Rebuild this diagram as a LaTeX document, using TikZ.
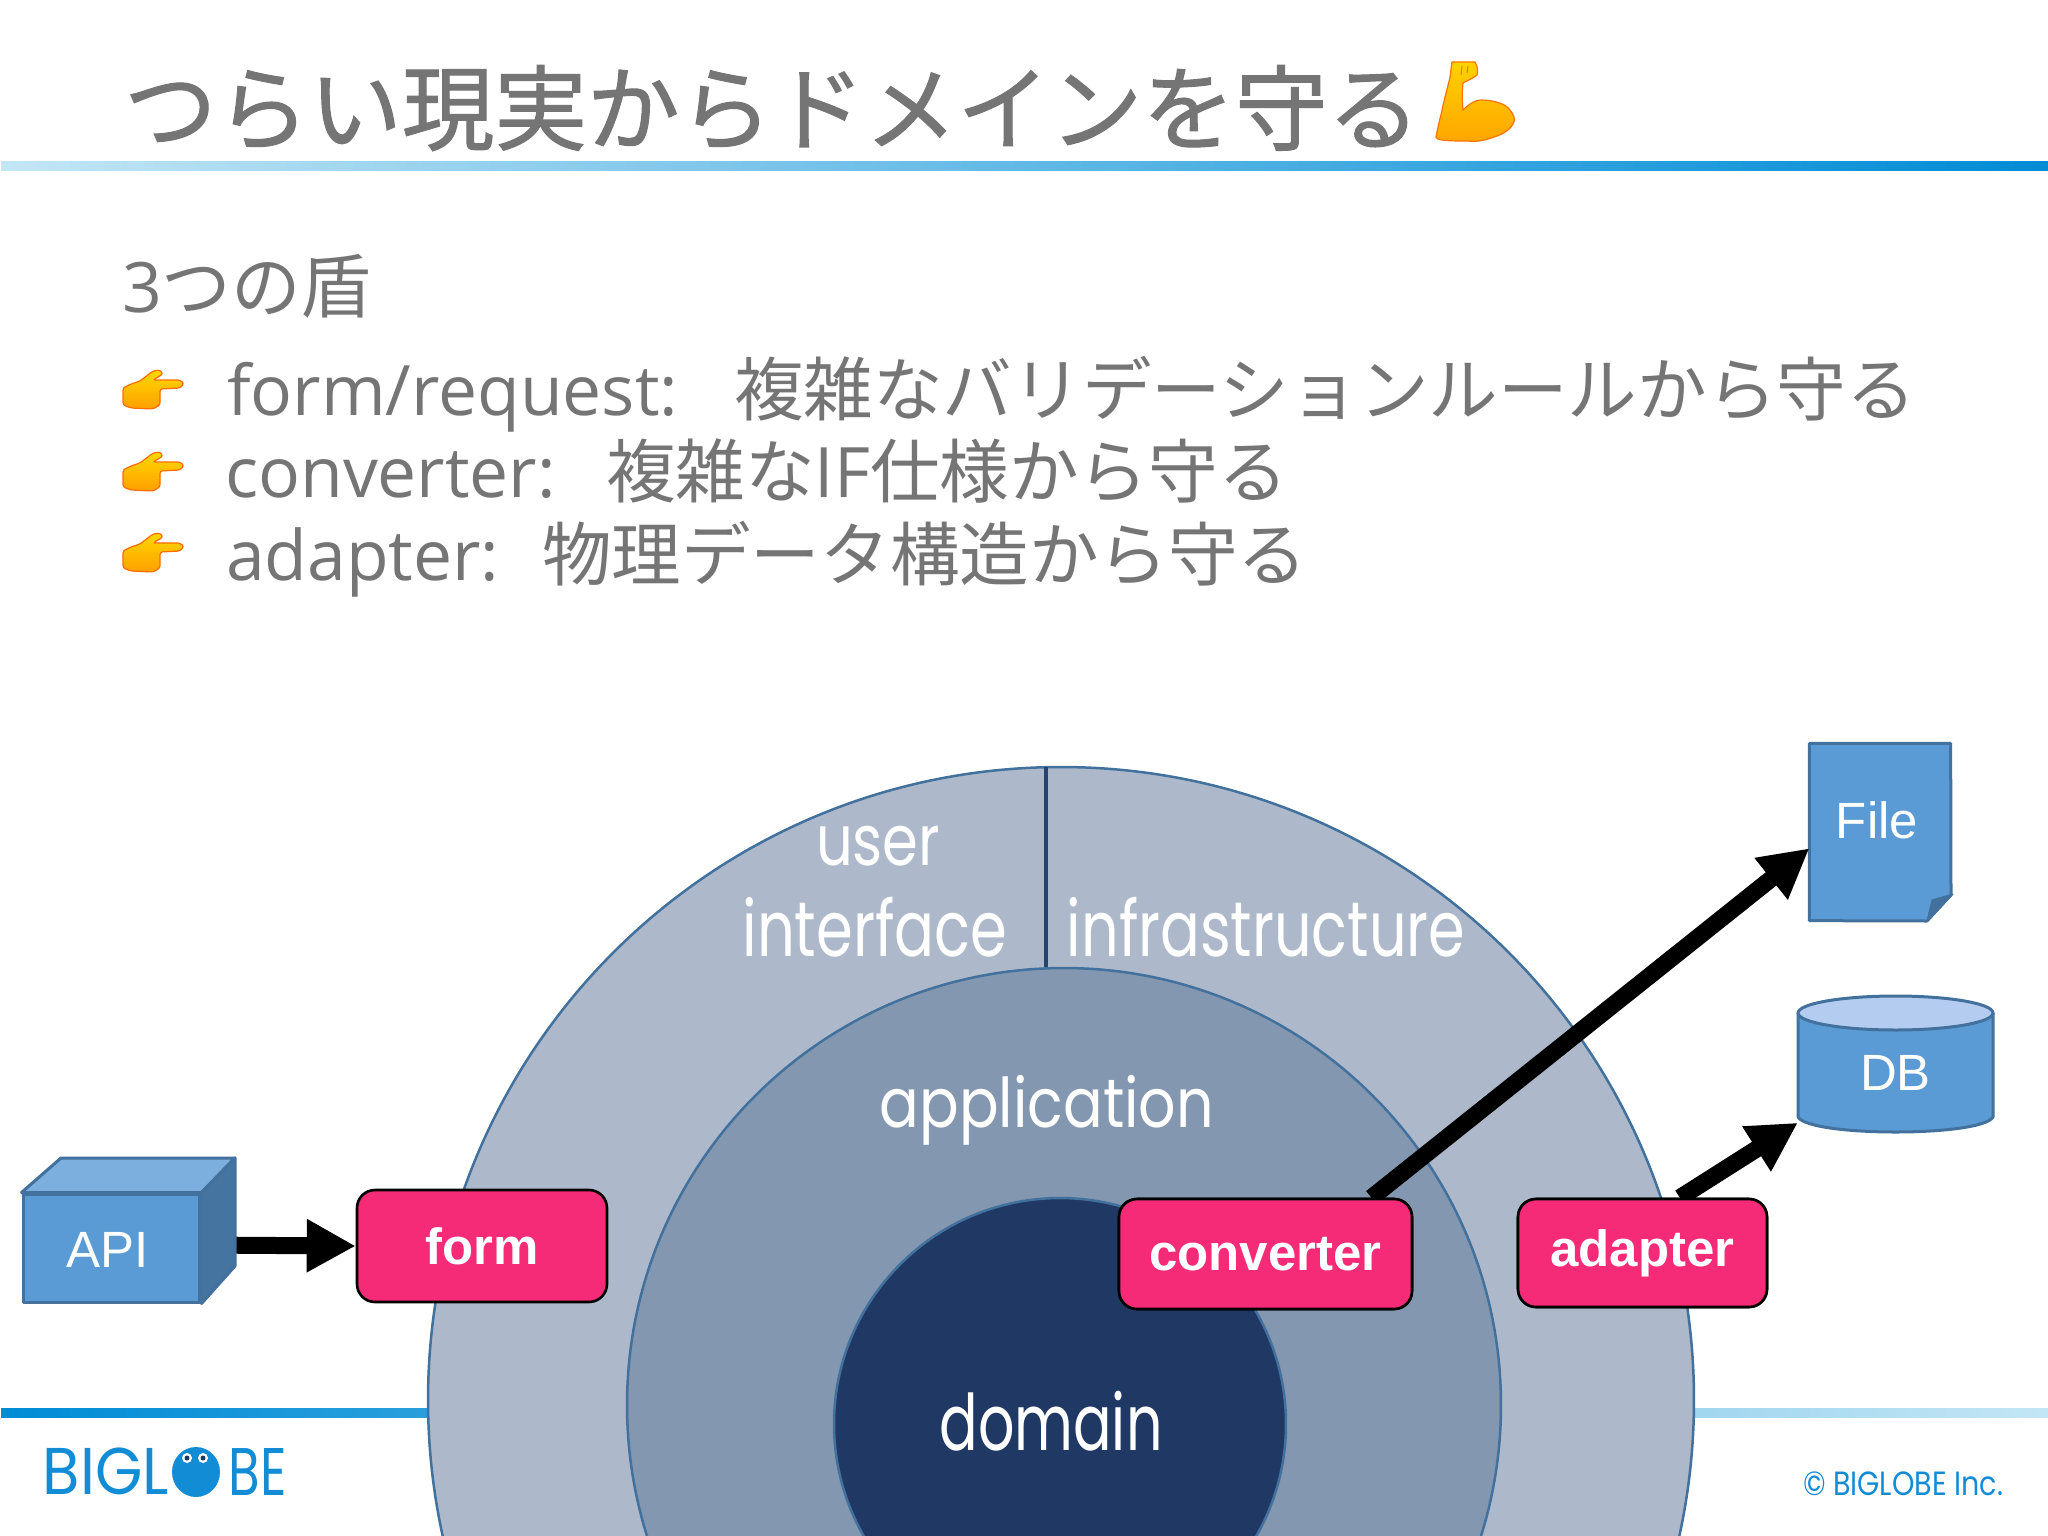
\documentclass[tikz,border=0pt]{standalone}
\usepackage{fontspec}
\usepackage{graphicx}
\usetikzlibrary{arrows.meta,shapes.geometric,calc}
\setmainfont{Liberation Sans}
\newfontfamily\cjk{Noto Sans CJK JP}
\newfontfamily\cjkb{Noto Sans CJK JP}[FakeBold=1.2]
\newfontfamily\opn{Open Sans}
\newfontfamily\pop{Poppins}
\newlength\pxu \setlength\pxu{0.05cm}
\newcommand\fitbox[3]{\resizebox*{#1\pxu}{#2\pxu}{#3}}
\definecolor{greytext}{HTML}{757575}
\definecolor{outerc}{HTML}{ADB9CA}
\definecolor{midc}{HTML}{8497B0}
\definecolor{innerc}{HTML}{203864}
\definecolor{edgec}{HTML}{41719C}
\definecolor{bluec}{HTML}{5B9BD5}
\definecolor{pinkc}{HTML}{F52B78}
\definecolor{logoc}{HTML}{138CD6}
\tikzset{
  bodytext/.style={anchor=base west,inner sep=0pt,text=greytext,font=\fontsize{99}{110}\selectfont},
  ringlabel/.style={inner sep=0pt,text=white},
  pinkbox/.style={rectangle,rounded corners=0.9cm,draw=black,line width=0.13cm,fill=pinkc,text=white,inner sep=0pt,
    font=\fontsize{72.5}{80}\selectfont\bfseries},
  bluetext/.style={inner sep=0pt,text=white,font=\fontsize{72.5}{80}\selectfont},
  ring/.style={circle,draw=edgec,line width=0.125cm,inner sep=0pt},
  bluepart/.style={draw=edgec,line width=0.15cm,line join=round},
  bigarrow/.style={line width=0.85cm,-{Triangle[length=2.45cm,width=2.5cm]}},
  hand/.pic={
    \path[draw=orange!85!red,line width=0.06cm,top color=yellow!70!orange,bottom color=orange!75!yellow,rounded corners=0.12cm]
      (37,0) -- (40,4) -- (30,10) -- (57,10) -- (61,13.5) -- (57,18) -- (37,19) -- (37,35) -- (30,39) -- (8,38) -- (0,35)
      -- (0,18) -- (8,14) -- (17,11) -- (30,1) -- cycle;
  },
  arm/.pic={
    \path[draw=orange!90!red,line width=0.06cm,top color=yellow!65!orange,bottom color=orange!70!yellow]
      (16,1) -- (39,1) .. controls (42,6) and (42,11) .. (41,14) .. controls (36,18) and (30,20) .. (27,22)
      .. controls (26,30) and (26,40) .. (27,49) .. controls (34,42) and (40,39) .. (45,39)
      .. controls (58,39) and (70,43) .. (74,49) .. controls (78,54) and (79,58) .. (78,61)
      .. controls (75,68) and (68,73) .. (58,76) .. controls (48,80) and (38,81) .. (32,80)
      .. controls (22,80) and (12,80) .. (6,79) .. controls (2,78) and (0,78) .. (0,76)
      .. controls (2,65) and (4,58) .. (6,49) .. controls (9,35) and (12,25) .. (14,16) -- cycle;
    \draw[draw=orange!90!red,line width=0.05cm] (26,5) -- (25,14) (32,5) -- (31,12);
  }
}
\begin{document}
\begin{tikzpicture}[x=0.05cm,y=-0.05cm]
\useasboundingbox (0,0) rectangle (2048,1536);
\clip (0,0) rectangle (2048,1536);
\fill[white] (0,0) rectangle (2048,1536);

% rules
\path[left color=white!75!cyan!60!blue!40,left color={rgb,255:red,195;green,230;blue,245},middle color={rgb,255:red,140;green,187;blue,229},right color={rgb,255:red,0;green,140;blue,214}]
  (1,162) rectangle (2048,171);
\path[left color={rgb,255:red,0;green,140;blue,214},middle color={rgb,255:red,140;green,187;blue,229},right color={rgb,255:red,195;green,230;blue,245}]
  (1,1408) rectangle (2048,1417);

% header text
\node[anchor=base west,inner sep=0pt,text=greytext,font=\cjkb\fontsize{131.7}{140}\selectfont] (title) at (124,143) {つらい現実からドメインを守る};
\pic (armicon) at (1436,61) {arm};
\node[bodytext] (sub) at (122,312) {\opn 3\cjk つの盾};
\pic (hand1) at (123,370) {hand};
\pic (hand2) at (123,452) {hand};
\pic (hand3) at (123,533) {hand};
\node[bodytext] (line1) at (227,415) {\makebox[507\pxu][l]{\opn form/request:}\cjk 複雑なバリデーションルールから守る};
\node[bodytext] (line2) at (225,497) {\makebox[381\pxu][l]{\opn converter:}\cjk 複雑な{\opn IF}仕様から守る};
\node[bodytext] (line3) at (226,580) {\makebox[316\pxu][l]{\opn adapter:}\cjk 物理データ構造から守る};

% rings
\node[ring,fill=outerc,minimum size=63.3cm] (outer) at (1061,1400) {};
\coordinate (splitTop) at (1046,767);
\coordinate (splitBottom) at (1046,968);
\draw[innerc!80!edgec,line width=0.2cm] (splitTop) -- (splitBottom);
\node[ring,fill=midc,minimum size=43.7cm] (middle) at (1064,1405) {};
\node[ring,fill=innerc,minimum size=22.6cm] (inner) at (1060,1424) {};
\node[ringlabel] (lUser) at (878,846) {\fitbox{124}{40}{\pop user}};
\node[ringlabel] (lInterface) at (875,927) {\fitbox{265}{60}{\pop interface}};
\node[ringlabel] (lInfra) at (1266,927) {\fitbox{398}{60}{\pop infrastructure}};
\node[ringlabel] (lApp) at (1047,1110) {\fitbox{334}{70}{\pop application}};
\node[ringlabel] (lDomain) at (1051,1421) {\fitbox{223}{60}{\pop domain}};

% targets and sources
\node[pinkbox,minimum width=12.5cm,minimum height=5.6cm] (form) at (482,1246) {form};
\node[bluepart,fill=bluec,rectangle,minimum width=8.85cm,minimum height=5.4cm,inner sep=0pt] (api) at (111.5,1248) {};
\draw[bigarrow] (api.east) ++(0,-3) -- (form.west);
\draw[bluepart,fill=bluec!80!white] (api.north west) -- (61,1158) -- (235,1158) -- (api.north east) -- cycle;
\draw[bluepart,fill=bluec!75!edgec!80!black] (api.north east) -- (235,1158) -- (235,1266) -- (api.south east) -- cycle;
\node[bluetext] (apiT) at (108,1250) {API};

\node[rectangle,minimum width=7.05cm,minimum height=8.85cm,inner sep=0pt] (file) at (1880,832) {};
\draw[bluepart,fill=bluec] (file.north west) -- (file.north east) -- (1951,895) -- (1927,921) -- (file.south west) -- cycle;
\fill[edgec,draw=edgec,line width=0.05cm,line join=round] (1927,921) -- (1932,900) -- (1953,894) -- cycle;
\node[bluetext] (fileT) at (1877,820) {File};

\node[rectangle,minimum width=9.75cm,minimum height=5.9cm,inner sep=0pt,text=white,font=\fontsize{72.5}{80}\selectfont,yshift=0cm] (db) at (1895.5,1073) {DB};
\begin{scope}[on background layer/.style={}]
\draw[bluepart,fill=bluec] (1798,1013) -- (1798,1117) .. controls (1810,1137) and (1981,1137) .. (1993,1117) -- (1993,1013) -- cycle;
\draw[bluepart,fill=bluec!40!white!95!blue] (1895.5,1013) ellipse [x radius=97.5,y radius=17];
\end{scope}
\node[text=white,inner sep=0pt,font=\fontsize{72.5}{80}\selectfont] (dbT) at (db.center) {DB};

\node[pinkbox,minimum width=14.65cm,minimum height=5.5cm] (conv) at (1265.5,1254) {converter};
\node[pinkbox,minimum width=12.45cm,minimum height=5.4cm] (adapter) at (1642.5,1253) {adapter};
\begin{scope}[on background layer/.style={}]
\draw[bigarrow] (conv.28.8) -- (file.193);
\draw[bigarrow] (adapter.56) -- (db.207);
\end{scope}
\node[pinkbox,minimum width=14.65cm,minimum height=5.5cm] (conv2) at (conv.center) {converter};
\node[pinkbox,minimum width=12.45cm,minimum height=5.4cm] (adapter2) at (adapter.center) {adapter};

% logo
\node[inner sep=0pt,text=logoc] (logoA) at (106,1471.5) {\fitbox{126}{47}{\pop BIGL}};
\node[inner sep=0pt,text=logoc] (logoB) at (258,1471.5) {\fitbox{58}{47}{\pop BE}};
\fill[logoc] (196,1472) ellipse [x radius=24,y radius=25];
\fill[white] (187,1458) circle [radius=5] (203,1458) circle [radius=5];
\fill[innerc] (187,1458) circle [radius=2.5] (203,1458) circle [radius=2.5];
\node[inner sep=0pt,text=logoc] (copy) at (1903,1483.5) {\fitbox{200}{24}{\pop © BIGLOBE Inc.}};
\end{tikzpicture}
\end{document}
